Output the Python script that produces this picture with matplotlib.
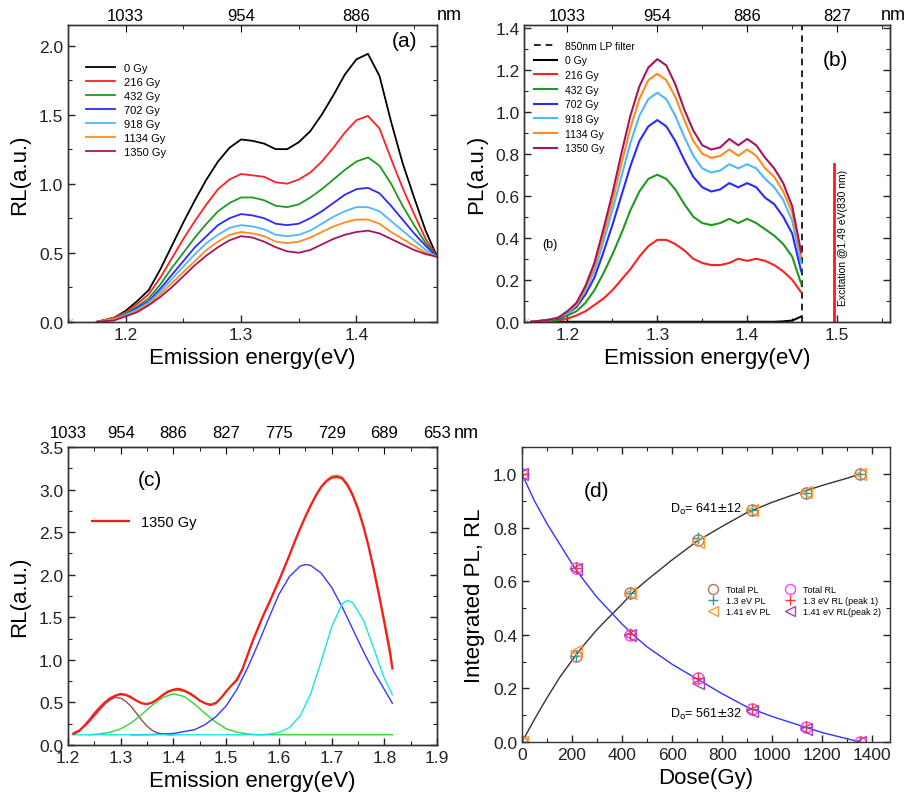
import numpy as np
import matplotlib.pyplot as plt
from matplotlib.ticker import MultipleLocator

plt.rcParams['font.family'] = ['Liberation Sans', 'DejaVu Sans']
plt.rcParams['axes.linewidth'] = 1.0
plt.rcParams['axes.edgecolor'] = '#333333'

## ---------------- data ----------------
doses_lbl = ['0 Gy', '216 Gy', '432 Gy', '702 Gy', '918 Gy', '1134 Gy', '1350 Gy']
colors = ['black', '#ff2020', '#1f9a1f', '#2a2aff', '#4db8ff', '#ff8c1a', '#a3165e']

## (a) RL spectra
ea = [1.175, 1.19, 1.20, 1.21, 1.22, 1.23, 1.24, 1.25, 1.26, 1.27, 1.28, 1.29, 1.30, 1.31, 1.32,
      1.33, 1.34, 1.35, 1.36, 1.37, 1.38, 1.39, 1.40, 1.41, 1.42, 1.43, 1.44, 1.45, 1.46, 1.47]
rl_0 = [0.0, 0.03, 0.08, 0.15, 0.23, 0.38, 0.55, 0.72, 0.88, 1.03, 1.16, 1.26, 1.32, 1.31, 1.29,
        1.25, 1.25, 1.30, 1.38, 1.50, 1.64, 1.79, 1.90, 1.94, 1.78, 1.45, 1.15, 0.90, 0.66, 0.47]
rl_216 = [0.0, 0.03, 0.07, 0.13, 0.20, 0.32, 0.46, 0.60, 0.73, 0.85, 0.96, 1.03, 1.07, 1.06, 1.05,
          1.01, 1.00, 1.03, 1.08, 1.16, 1.26, 1.37, 1.46, 1.49, 1.40, 1.18, 0.97, 0.78, 0.60, 0.47]
rl_432 = [0.0, 0.02, 0.06, 0.11, 0.17, 0.27, 0.39, 0.50, 0.61, 0.71, 0.80, 0.86, 0.90, 0.90, 0.88,
          0.84, 0.83, 0.85, 0.90, 0.96, 1.03, 1.10, 1.16, 1.19, 1.13, 1.00, 0.84, 0.70, 0.57, 0.47]
rl_702 = [0.0, 0.02, 0.05, 0.10, 0.15, 0.24, 0.34, 0.44, 0.54, 0.62, 0.70, 0.75, 0.78, 0.77, 0.75,
          0.71, 0.70, 0.71, 0.75, 0.80, 0.86, 0.92, 0.96, 0.97, 0.93, 0.84, 0.74, 0.64, 0.55, 0.47]
rl_918 = [0.0, 0.02, 0.05, 0.09, 0.14, 0.22, 0.31, 0.40, 0.49, 0.57, 0.63, 0.68, 0.70, 0.69, 0.67,
          0.63, 0.62, 0.63, 0.66, 0.71, 0.76, 0.80, 0.83, 0.83, 0.80, 0.73, 0.66, 0.59, 0.52, 0.47]
rl_1134 = [0.0, 0.02, 0.04, 0.08, 0.13, 0.20, 0.28, 0.36, 0.44, 0.52, 0.58, 0.63, 0.65, 0.64, 0.62,
           0.58, 0.57, 0.58, 0.61, 0.65, 0.69, 0.72, 0.74, 0.74, 0.71, 0.65, 0.60, 0.55, 0.50, 0.47]
rl_1350 = [0.0, 0.01, 0.04, 0.07, 0.12, 0.18, 0.25, 0.33, 0.41, 0.48, 0.54, 0.59, 0.62, 0.61, 0.58,
           0.54, 0.51, 0.50, 0.52, 0.56, 0.60, 0.63, 0.65, 0.66, 0.64, 0.60, 0.56, 0.52, 0.49, 0.47]
rl_all = [rl_0, rl_216, rl_432, rl_702, rl_918, rl_1134, rl_1350]

## (b) PL spectra
eb = [1.16, 1.17, 1.18, 1.19, 1.20, 1.21, 1.22, 1.23, 1.24, 1.25, 1.26, 1.27, 1.28, 1.29, 1.30, 1.31,
      1.32, 1.33, 1.34, 1.35, 1.36, 1.37, 1.38, 1.39, 1.40, 1.41, 1.42, 1.43, 1.44, 1.45, 1.46]
pl_0 = [0.0, 0.0, 0.0, 0.0, 0.0, 0.0, 0.0, 0.0, 0.0, 0.0, 0.0, 0.0, 0.0, 0.0, 0.0, 0.0,
        0.0, 0.0, 0.0, 0.0, 0.0, 0.0, 0.0, 0.0, 0.0, 0.0, 0.0, 0.0, 0.002, 0.006, 0.025]
pl_216 = [0.0, 0.0, 0.003, 0.006, 0.015, 0.03, 0.05, 0.08, 0.11, 0.15, 0.20, 0.25, 0.31, 0.36, 0.39, 0.39,
          0.37, 0.34, 0.30, 0.28, 0.27, 0.27, 0.28, 0.30, 0.29, 0.30, 0.29, 0.27, 0.24, 0.20, 0.14]
pl_432 = [0.0, 0.003, 0.005, 0.01, 0.03, 0.05, 0.09, 0.15, 0.23, 0.32, 0.42, 0.53, 0.62, 0.68, 0.70, 0.68,
          0.63, 0.56, 0.50, 0.47, 0.46, 0.47, 0.49, 0.47, 0.49, 0.47, 0.44, 0.41, 0.37, 0.31, 0.18]
pl_702 = [0.0, 0.004, 0.01, 0.015, 0.04, 0.07, 0.13, 0.21, 0.33, 0.46, 0.60, 0.74, 0.86, 0.93, 0.96, 0.93,
          0.86, 0.77, 0.69, 0.64, 0.62, 0.63, 0.66, 0.64, 0.66, 0.64, 0.59, 0.56, 0.50, 0.42, 0.24]
pl_918 = [0.0, 0.004, 0.01, 0.02, 0.04, 0.08, 0.15, 0.24, 0.38, 0.53, 0.69, 0.85, 0.98, 1.06, 1.09, 1.06,
          0.98, 0.88, 0.79, 0.73, 0.71, 0.72, 0.75, 0.73, 0.75, 0.73, 0.68, 0.64, 0.58, 0.48, 0.28]
pl_1134 = [0.0, 0.005, 0.01, 0.02, 0.05, 0.08, 0.16, 0.26, 0.41, 0.57, 0.75, 0.92, 1.06, 1.15, 1.18, 1.15,
           1.07, 0.96, 0.86, 0.80, 0.78, 0.79, 0.82, 0.79, 0.82, 0.79, 0.73, 0.69, 0.62, 0.52, 0.31]
pl_1350 = [0.0, 0.005, 0.01, 0.02, 0.05, 0.09, 0.17, 0.28, 0.44, 0.61, 0.80, 0.98, 1.12, 1.21, 1.25, 1.22,
           1.13, 1.01, 0.91, 0.84, 0.82, 0.83, 0.87, 0.84, 0.87, 0.84, 0.78, 0.73, 0.66, 0.55, 0.33]
pl_all = [pl_0, pl_216, pl_432, pl_702, pl_918, pl_1134, pl_1350]
lp_filter_ev = 1.461
excit_ev = 1.497
excit_h = 0.75

## (c) RL 1350 Gy with peak fit
ec = [1.21, 1.22, 1.23, 1.24, 1.25, 1.26, 1.27, 1.28, 1.29, 1.30, 1.31, 1.32, 1.33, 1.34, 1.35, 1.36,
      1.37, 1.38, 1.39, 1.40, 1.41, 1.42, 1.43, 1.44, 1.45, 1.46, 1.47, 1.48, 1.49, 1.50, 1.51, 1.52,
      1.53, 1.54, 1.55, 1.56, 1.57, 1.58, 1.59, 1.60, 1.61, 1.62, 1.63, 1.64, 1.65, 1.66, 1.67, 1.68,
      1.69, 1.70, 1.71, 1.72, 1.73, 1.74, 1.75, 1.76, 1.77, 1.78, 1.79, 1.80, 1.81, 1.815]
rl_c = [0.13, 0.16, 0.22, 0.29, 0.37, 0.44, 0.50, 0.55, 0.58, 0.60, 0.59, 0.56, 0.52, 0.49, 0.48, 0.50,
        0.54, 0.59, 0.63, 0.65, 0.66, 0.64, 0.61, 0.57, 0.52, 0.49, 0.47, 0.49, 0.55, 0.63, 0.70, 0.76,
        0.88, 1.05, 1.22, 1.37, 1.52, 1.65, 1.79, 1.93, 2.08, 2.23, 2.39, 2.54, 2.68, 2.81, 2.93, 3.03,
        3.10, 3.14, 3.15, 3.13, 3.05, 2.93, 2.77, 2.57, 2.33, 2.05, 1.75, 1.43, 1.10, 0.90]
fit_sum = [0.13, 0.16, 0.22, 0.29, 0.37, 0.44, 0.50, 0.55, 0.58, 0.59, 0.58, 0.55, 0.52, 0.49, 0.48, 0.50,
           0.54, 0.58, 0.62, 0.64, 0.64, 0.63, 0.60, 0.56, 0.52, 0.49, 0.48, 0.50, 0.55, 0.62, 0.70, 0.78,
           0.89, 1.04, 1.21, 1.37, 1.52, 1.66, 1.80, 1.94, 2.09, 2.24, 2.40, 2.55, 2.69, 2.82, 2.94, 3.04,
           3.11, 3.16, 3.17, 3.15, 3.07, 2.95, 2.79, 2.59, 2.35, 2.08, 1.78, 1.47, 1.15, 0.95]
e_p1 = [1.21, 1.22, 1.23, 1.24, 1.25, 1.26, 1.27, 1.28, 1.29, 1.30, 1.31, 1.32, 1.33, 1.34, 1.35, 1.36,
        1.37, 1.38, 1.39, 1.40]
peak1 = [0.14, 0.17, 0.21, 0.27, 0.34, 0.41, 0.48, 0.53, 0.56, 0.55, 0.51, 0.45, 0.37, 0.29, 0.22, 0.17,
         0.14, 0.13, 0.12, 0.12]
e_p2 = [1.24, 1.26, 1.28, 1.30, 1.32, 1.34, 1.36, 1.38, 1.40, 1.42, 1.44, 1.46, 1.48, 1.50, 1.52, 1.54,
        1.56, 1.815]
peak2 = [0.12, 0.13, 0.15, 0.19, 0.26, 0.36, 0.47, 0.56, 0.60, 0.57, 0.48, 0.37, 0.27, 0.19, 0.15, 0.13,
         0.12, 0.12]
e_p3 = [1.32, 1.36, 1.40, 1.44, 1.46, 1.48, 1.50, 1.52, 1.54, 1.56, 1.58, 1.60, 1.62, 1.64, 1.65, 1.66,
        1.68, 1.70, 1.72, 1.74, 1.76, 1.78, 1.80, 1.815]
peak3 = [0.12, 0.123, 0.135, 0.18, 0.24, 0.33, 0.46, 0.65, 0.90, 1.18, 1.48, 1.77, 1.98, 2.10, 2.12, 2.11,
         2.02, 1.85, 1.62, 1.36, 1.10, 0.86, 0.65, 0.49]
e_p4 = [1.21, 1.56, 1.58, 1.60, 1.62, 1.64, 1.66, 1.68, 1.70, 1.72, 1.73, 1.74, 1.76, 1.78, 1.80, 1.815]
peak4 = [0.12, 0.12, 0.127, 0.147, 0.205, 0.34, 0.60, 0.98, 1.39, 1.66, 1.70, 1.67, 1.47, 1.13, 0.78, 0.59]

## (d) integrated intensities vs dose
dose = [0, 216, 432, 702, 918, 1134, 1350]
tot_pl = [0.0, 0.32, 0.555, 0.755, 0.865, 0.93, 1.0]
pl13 = [0.0, 0.32, 0.555, 0.76, 0.865, 0.93, 1.0]
pl141 = [0.0, 0.34, 0.555, 0.745, 0.865, 0.935, 1.0]
tot_rl = [1.0, 0.65, 0.40, 0.24, 0.125, 0.055, 0.0]
rl13 = [1.0, 0.65, 0.405, 0.24, 0.125, 0.055, 0.0]
rl141 = [1.0, 0.645, 0.40, 0.22, 0.115, 0.05, 0.0]
dose_fit = [0, 50, 100, 150, 200, 250, 300, 350, 400, 450, 500, 600, 700, 800, 900, 1000, 1100, 1200, 1300, 1350]
fit_pl = [0.0, 0.085, 0.165, 0.24, 0.305, 0.365, 0.42, 0.468, 0.515, 0.565, 0.605, 0.68, 0.75, 0.805,
          0.857, 0.895, 0.928, 0.958, 0.985, 1.0]
fit_rl = [1.0, 0.90, 0.815, 0.74, 0.665, 0.60, 0.54, 0.49, 0.44, 0.395, 0.355, 0.29, 0.235, 0.18,
          0.13, 0.095, 0.065, 0.035, 0.012, 0.0]

top_ev_ab = [1.2, 1.3, 1.4, 1.5]
top_nm_ab = ['1033', '954', '886', '827']
top_ev_c = [1.2, 1.3, 1.4, 1.5, 1.6, 1.7, 1.8, 1.9]
top_nm_c = ['1033', '954', '886', '827', '775', '729', '689', '653']

## ---------------- figure ----------------
fig = plt.figure(figsize=(9.07, 8.03), dpi=100)
axA = fig.add_axes([0.075, 0.598, 0.407, 0.369])
axB = fig.add_axes([0.578, 0.598, 0.4035, 0.369])
axC = fig.add_axes([0.075, 0.071, 0.407, 0.371])
axD = fig.add_axes([0.5755, 0.0747, 0.4057, 0.367])


def style(ax, xmaj, xmin, ymaj, ymin, top=False):
    ax.xaxis.set_major_locator(MultipleLocator(xmaj))
    ax.xaxis.set_minor_locator(MultipleLocator(xmin))
    ax.yaxis.set_major_locator(MultipleLocator(ymaj))
    ax.yaxis.set_minor_locator(MultipleLocator(ymin))
    ax.tick_params(which='both', direction='in', right=True, top=top, labelsize=12.5, colors='#222222')
    ax.tick_params(which='major', length=5, width=1)
    ax.tick_params(which='minor', length=3, width=0.8)


def top_axis(ax, ev, nm, pad=2):
    t = ax.twiny()
    t.set_xlim(ax.get_xlim())
    t.set_xticks(ev)
    t.set_xticklabels(nm)
    t.xaxis.set_minor_locator(MultipleLocator(0.05))
    t.tick_params(which='both', direction='in', labelsize=12, pad=pad)
    t.tick_params(which='major', length=5)
    t.tick_params(which='minor', length=3)
    return t


## (a)
for y, c, l in zip(rl_all, colors, doses_lbl):
    axA.plot(ea, y, color=c, lw=1.3, label=l)
axA.set_xlim(1.15, 1.47)
axA.set_ylim(0, 2.145)
style(axA, 0.1, 0.05, 0.5, 0.25)
axA.set_xlabel('Emission energy(eV)', fontsize=16)
axA.set_ylabel('RL(a.u.)', fontsize=16, labelpad=6)
axA.text(1.442, 2.04, '(a)', fontsize=15, ha='center', va='center')
axA.legend(loc='upper left', bbox_to_anchor=(0.03, 0.895), frameon=False, fontsize=8,
           handlelength=2.6, labelspacing=0.35, borderaxespad=0.2)
top_axis(axA, top_ev_ab[:3], top_nm_ab[:3])
fig.text(449 / 907, 1 - 15 / 803, 'nm', fontsize=13, ha='center', va='center')
axA.text(0.0, 0.0, '//', transform=axA.transAxes, fontsize=6, color='#666666', ha='left', va='center')

## (b)
axB.axvline(lp_filter_ev, color='black', lw=1.2, ls=(0, (4, 3)), label='850nm LP filter')
for y, c, l in zip(pl_all, colors, doses_lbl):
    axB.plot(eb, y, color=c, lw=1.5, label=l)
axB.plot([excit_ev, excit_ev], [0, excit_h], color='#ff1a1a', lw=2)
axB.text(1.507, 0.08, 'Excitation @1.49 eV(830 nm)', rotation=90, fontsize=7.5, ha='center', va='bottom')
axB.set_xlim(1.152, 1.559)
axB.set_ylim(0, 1.41)
style(axB, 0.1, 0.05, 0.2, 0.1)
axB.set_xlabel('Emission energy(eV)', fontsize=16)
axB.set_ylabel('PL(a.u.)', fontsize=16, labelpad=6)
axB.text(1.498, 1.25, '(b)', fontsize=15, ha='center', va='center')
axB.text(1.181, 0.37, '(b)', fontsize=9, ha='center', va='center')
axB.legend(loc='upper left', bbox_to_anchor=(0.01, 0.97), frameon=False, fontsize=7.5,
           handlelength=2.2, labelspacing=0.45, borderaxespad=0.2)
top_axis(axB, top_ev_ab, top_nm_ab)
fig.text(893 / 907, 1 - 15 / 803, 'nm', fontsize=13, ha='center', va='center')
axB.text(0.0, 0.0, '//', transform=axB.transAxes, fontsize=6, color='#666666', ha='left', va='center')

## (c)
axC.plot(ec, fit_sum, color='#a0a040', lw=1.0)
axC.plot(e_p1, peak1, color='#a04848', lw=1.0)
axC.plot(e_p2, peak2, color='#33d633', lw=1.0)
axC.plot(e_p3, peak3, color='#3838ff', lw=1.0)
axC.plot(e_p4, peak4, color='#19e6e6', lw=1.0)
axC.plot(ec, rl_c, color='#ff1a1a', lw=1.6, label='1350 Gy')
axC.set_xlim(1.2, 1.9)
axC.set_ylim(0, 3.5)
style(axC, 0.1, 0.05, 0.5, 0.25)
axC.set_xlabel('Emission energy(eV)', fontsize=16)
axC.set_ylabel('RL(a.u.)', fontsize=16, labelpad=6)
axC.text(1.355, 3.12, '(c)', fontsize=15, ha='center', va='center')
axC.legend(loc='upper left', bbox_to_anchor=(0.04, 0.8), frameon=False, fontsize=10.5,
           handlelength=2.6, borderaxespad=0.2)
top_axis(axC, top_ev_c, top_nm_c, pad=5)
fig.text(466 / 907, 1 - 434 / 803, 'nm', fontsize=13, ha='center', va='center')

## (d)
axD.plot(dose_fit, fit_pl, color='#333333', lw=1.0)
axD.plot(dose_fit, fit_rl, color='#3333ff', lw=1.0)
ms = 8
axD.plot(dose, tot_pl, 'o', mfc='none', mec='#c07060', ms=ms, label='Total PL')
axD.plot(dose, pl13, '+', color='#2a9d9d', ms=ms, label='1.3 eV PL')
axD.plot(dose, pl141, '<', mfc='none', mec='#ff9933', ms=ms, label='1.41 eV PL')
axD.plot(dose, tot_rl, 'o', mfc='none', mec='#ff40ff', ms=ms, label='Total RL')
axD.plot(dose, rl13, '+', color='#ff3333', ms=ms, label='1.3 eV RL (peak 1)')
axD.plot(dose, rl141, '<', mfc='none', mec='#aa44aa', ms=ms, label='1.41 eV RL(peak 2)')
axD.set_xlim(0, 1470)
axD.set_ylim(0, 1.1)
style(axD, 200, 100, 0.2, 0.1, top=True)
axD.set_xlabel('Dose(Gy)', fontsize=16)
axD.set_ylabel('Integrated PL, RL', fontsize=16, labelpad=6)
axD.text(297, 0.937, '(d)', fontsize=15, ha='center', va='center')
axD.text(590, 0.87, r'D$_{\rm o}$= 641$\pm$12', fontsize=9, ha='left', va='center')
axD.text(590, 0.105, r'D$_{\rm o}$= 561$\pm$32', fontsize=9, ha='left', va='center')
axD.legend(loc='upper left', bbox_to_anchor=(0.48, 0.56), ncol=2, frameon=False, fontsize=6.5,
           handlelength=1.5, labelspacing=0.2, columnspacing=1.5, handletextpad=0.6, markerscale=0.9)

fig.savefig('out.png', dpi=100)
